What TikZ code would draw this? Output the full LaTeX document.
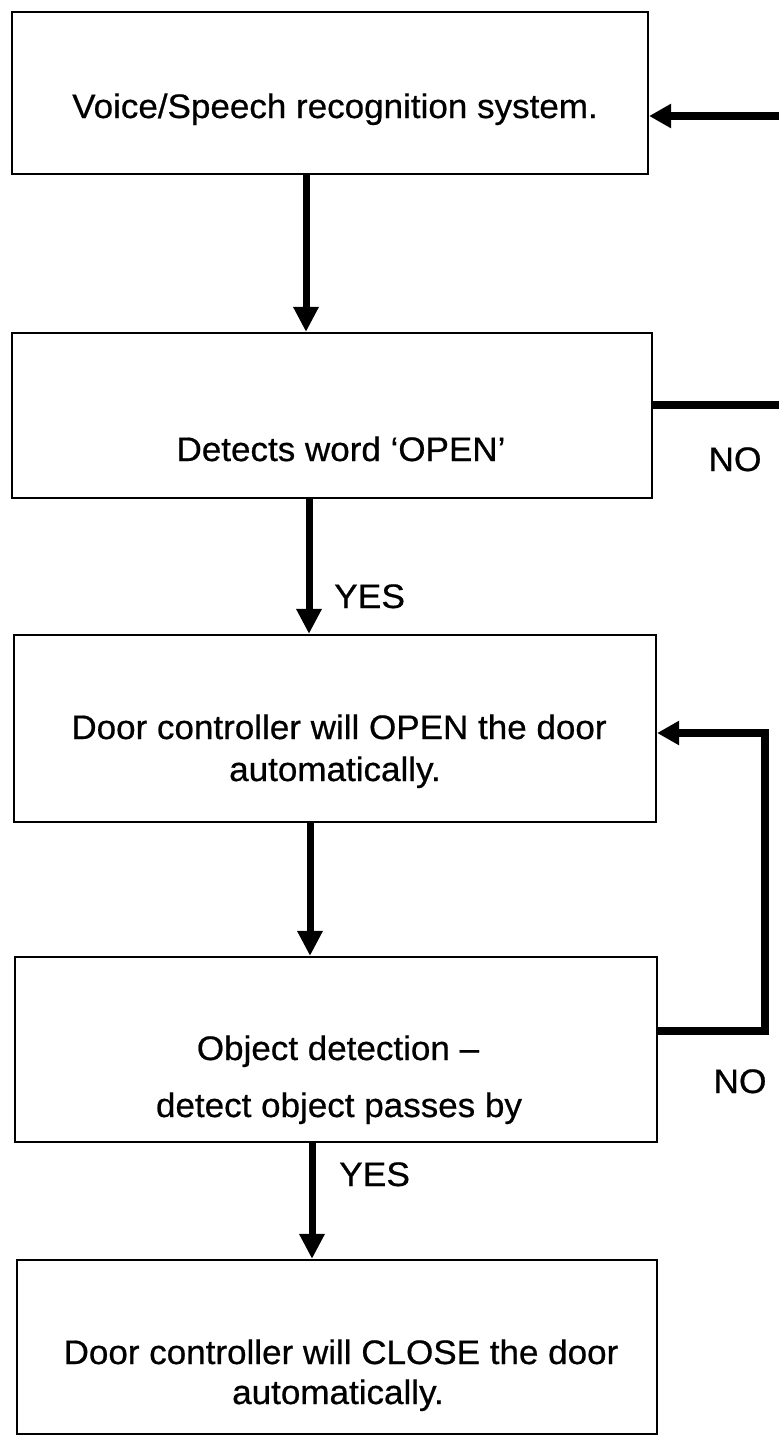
\documentclass[tikz,border=0pt]{standalone}
\usepackage{fontspec}
\setmainfont{Liberation Sans}
\usetikzlibrary{arrows.meta}
\newcommand{\boxtxt}[1]{\scalebox{1.03}[1]{\fontsize{34}{40}\selectfont\addfontfeature{FakeBold=0.6}#1}}
\newcommand{\labtxt}[1]{\scalebox{1.04}[1]{\fontsize{34}{40}\selectfont\addfontfeature{FakeBold=0.6}#1}}
\begin{document}
\begin{tikzpicture}[x=1pt,y=-1pt,
  stepbox/.style={draw=black,line width=2.2pt,rectangle,inner sep=0pt},
  txt/.style={inner sep=0pt,anchor=base},
  lab/.style={inner sep=0pt,anchor=base},
  flow/.style={line width=7pt,-{Triangle[length=25pt,width=24pt]}},
  flowh/.style={line width=8pt,-{Triangle[length=22pt,width=23pt]}},
  plain/.style={line width=8pt}]
\useasboundingbox (0,0) rectangle (779,1438);
\fill[white] (0,0) rectangle (779,1438);
% boxes
\node[stepbox,minimum width=636pt,minimum height=162pt] (B1) at (330,93) {};
\node[stepbox,minimum width=640pt,minimum height=165pt] (B2) at (332,415.5) {};
\node[stepbox,minimum width=642pt,minimum height=187pt] (B3) at (335,728.5) {};
\node[stepbox,minimum width=642pt,minimum height=185pt] (B4) at (336,1049.5) {};
\node[stepbox,minimum width=640pt,minimum height=174pt] (B5) at (337,1347) {};
% texts
\node[txt] (t1) at (335,118) {\boxtxt{Voice/Speech recognition system.}};
\node[txt] (t2) at (341,461) {\boxtxt{Detects word ‘OPEN’}};
\node[txt] (t3a) at (339,739) {\boxtxt{Door controller will OPEN the door}};
\node[txt] (t3b) at (335,781) {\boxtxt{automatically.}};
\node[txt] (t4a) at (338,1060) {\boxtxt{Object detection –}};
\node[txt] (t4b) at (339,1117) {\boxtxt{detect object passes by}};
\node[txt] (t5a) at (341,1364) {\boxtxt{Door controller will CLOSE the door}};
\node[txt] (t5b) at (338,1404) {\boxtxt{automatically.}};
% labels
\node[lab] (no1) at (735,471) {\labtxt{NO}};
\node[lab,anchor=base west] (yes1) at (334,608) {\labtxt{YES}};
\node[lab] (no2) at (740,1093) {\labtxt{NO}};
\node[lab,anchor=base west] (yes2) at (339,1186) {\labtxt{YES}};
% free ends
\coordinate (in1) at (779,116);
\coordinate (out2) at (779,405);
\coordinate (corner) at (765,1031);
% vertical flow
\draw[flow] (B1.south -| 306,0) -- (B2.north -| 306,0);
\draw[flow] (B2.south -| 309,0) -- (B3.north -| 309,0);
\draw[flow] (B3.south -| 310,0) -- (B4.north -| 310,0);
\draw[flow] (B4.south -| 312,0) -- (B5.north -| 312,0);
% right side
\draw[flowh] (in1) -- (B1.east |- in1);
\draw[plain] (B2.east |- out2) -- (out2);
\draw[flowh] (B4.east |- corner) -- (corner) -- (765,733) -- (B3.east |- 0,733);
\end{tikzpicture}
\end{document}
